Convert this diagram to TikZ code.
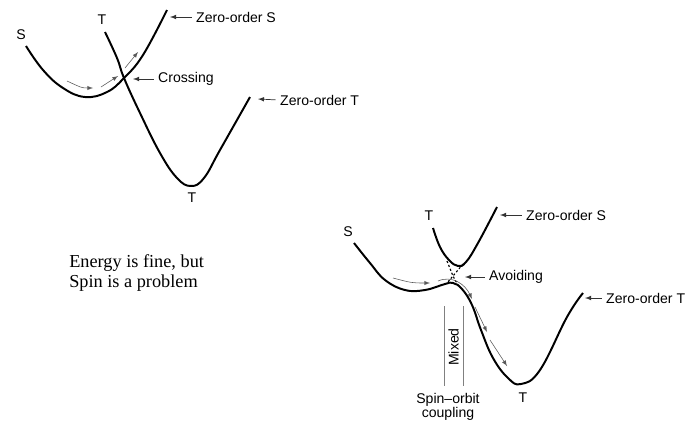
\documentclass[tikz,border=0pt]{standalone}
\usepackage{fontspec}
\setmainfont{Liberation Serif}
\setsansfont{Liberation Sans}
\begin{document}
\begin{tikzpicture}[
	x=0.025cm, y=-0.025cm,
	curve/.style={line width=1.4pt, line join=round},
	flow/.style={-latex, gray!70!black, line width=0.4pt},
	lbl/.style={font=\sffamily, inner sep=1pt},
	pointer/.style={-latex, black!80, line width=0.5pt, shorten <=2pt},
	mixline/.style={gray, line width=0.6pt},
	avoid/.style={line width=0.8pt, dash pattern=on 1.5pt off 1.5pt}
	]
	\useasboundingbox (0,0) rectangle (686,422);

	% crossing
	\draw[curve] plot[smooth, tension=0.7] coordinates {(26,46) (43,70) (63,88) (85,97) (107,92) (124,78) (143,55) (167,10)};
	\draw[curve] plot[smooth, tension=0.7] coordinates {(105,32) (117,58) (124,78) (140,113) (160,153) (177,178) (191,186) (204,178) (220,150) (250,97)};
	\draw[flow] (67,81) .. controls (82,88) .. (93,88);
	\draw[flow] (101,87) -- (118,76);
	\draw[flow] (125,68) -- (138,52);

	\node[lbl] (sA) at (21,35) {S};
	\node[lbl] (tA) at (102,20) {T};
	\node[lbl] (tminA) at (192,198) {T};
	\coordinate (zsA) at (170,17);
	\coordinate (crossA) at (133,79);
	\coordinate (ztA) at (258,99);
	\node[lbl, anchor=west] (lblzsA) at (194.5,17) {Zero-order S};
	\node[lbl, anchor=west] (lblcrossA) at (156.5,79) {Crossing};
	\node[lbl, anchor=west] (lblztA) at (278.5,100) {Zero-order T};
	\draw[pointer] (lblzsA.west) -- (zsA);
	\draw[pointer] (lblcrossA.west) -- (crossA);
	\draw[pointer] (lblztA.west) -- (ztA);

	\node[anchor=west, align=left, inner sep=0pt, font=\fontsize{13}{14.7}\selectfont] (note) at (69,273) {Energy is fine, but\\Spin is a problem};

	% avoided crossing
	\draw[curve] plot[smooth, tension=0.7] coordinates {(354,243) (370,263) (385,280) (405,290) (425,290) (445,284) (453,283) (462,289) (472,305) (481,330) (493,358) (508,378) (521,384) (540,370) (567,317) (583,293)};
	\draw[curve] plot[smooth, tension=0.7] coordinates {(433,228) (440,247) (449,260) (458,266) (466,262) (478,243) (497,207)};
	\draw[avoid] (447,261) -- (453,276) -- (459,287);
	\draw[avoid] (463,264) -- (453,276) -- (447,283);
	\draw[flow] (393,278) .. controls (412,283) .. (430,283);
	\draw[flow] (438,281) .. controls (452,275) and (465,284) .. (472,299);
	\draw[flow] (475,307) -- (487,332);
	\draw[flow] (490,340) -- (507,366);
	\draw[mixline] (444,306) -- (444,386);
	\draw[mixline] (463.5,306) -- (463.5,386);

	\node[lbl] (sB) at (348,232) {S};
	\node[lbl] (tB) at (429,216) {T};
	\node[lbl] (tminB) at (523,398) {T};
	\node[lbl, rotate=90] (mixed) at (453.5,347) {Mixed};
	\node[lbl, align=center, font=\sffamily\fontsize{10}{9.5}\selectfont] (soc) at (448,407) {Spin--orbit\\coupling};
	\coordinate (zsB) at (500,215);
	\coordinate (avoidB) at (465,277);
	\coordinate (ztB) at (585,298);
	\node[lbl, anchor=west] (lblzsB) at (524.5,215) {Zero-order S};
	\node[lbl, anchor=west] (lblavoidB) at (487.5,277) {Avoiding};
	\node[lbl, anchor=west] (lblztB) at (604.5,298) {Zero-order T};
	\draw[pointer] (lblzsB.west) -- (zsB);
	\draw[pointer] (lblavoidB.west) -- (avoidB);
	\draw[pointer] (lblztB.west) -- (ztB);
\end{tikzpicture}
\end{document}
